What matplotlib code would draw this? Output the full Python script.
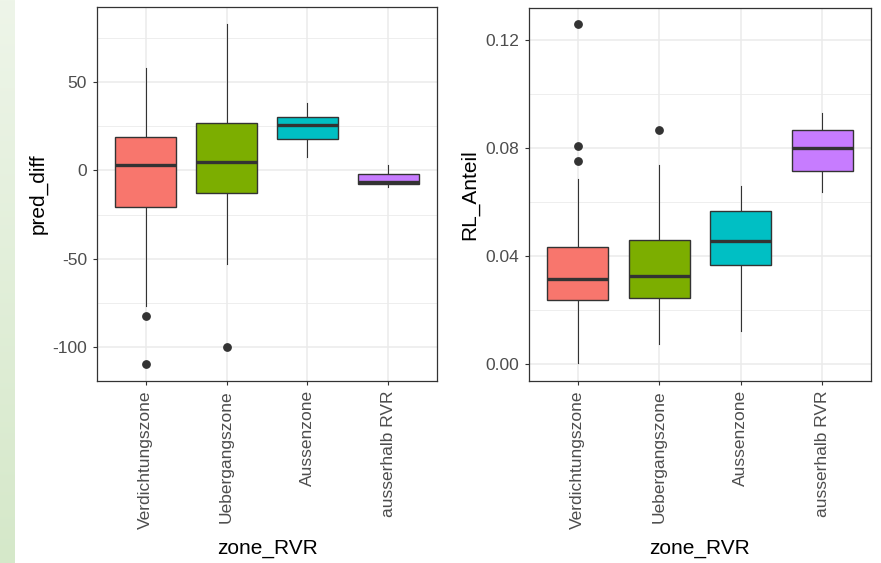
import numpy as np
import matplotlib
matplotlib.use("Agg")
import matplotlib.pyplot as plt
from matplotlib.ticker import MultipleLocator, FixedLocator

plt.rcParams['font.family'] = ['Liberation Sans', 'DejaVu Sans']

zones = ["Verdichtungszone", "Uebergangszone", "Aussenzone", "ausserhalb RVR"]
colors = ["#F8766D", "#7CAE00", "#00BFC4", "#C77CFF"]

pred_whislo = [-76.5, -53.1, 7.4, -9.2]
pred_q1 = [-20.5, -12.9, 17.9, -7.7]
pred_med = [2.9, 4.9, 25.8, -6.4]
pred_q3 = [19.0, 27.0, 30.4, -1.9]
pred_whishi = [57.7, 82.6, 37.9, 3.2]
pred_fliers = [[-82.3, -109.3], [-100.0], [], []]

rl_whislo = [0.0004, 0.0073, 0.0121, 0.0635]
rl_q1 = [0.0237, 0.0243, 0.0366, 0.0714]
rl_med = [0.0313, 0.0327, 0.0455, 0.0799]
rl_q3 = [0.0432, 0.0459, 0.0568, 0.0865]
rl_whishi = [0.0685, 0.0738, 0.0659, 0.0931]
rl_fliers = [[0.1258, 0.0808, 0.0750], [0.0865], [], []]

W, H = 881, 563
fig = plt.figure(figsize=(W / 100, H / 100), dpi=100)
fig.patch.set_facecolor("white")

# green slide strip on the left
bg = fig.add_axes([0, 0, 15 / W, 1], zorder=-10)
grad = np.linspace(0, 1, 256)[:, None]
top = np.array([238, 245, 233]) / 255
bot = np.array([213, 232, 201]) / 255
img = top[None, None, :] * (1 - grad[:, :, None]) + bot[None, None, :] * grad[:, :, None]
bg.imshow(img, aspect="auto", extent=[0, 1, 0, 1])
bg.axis("off")

GRID = "#EBEBEB"
DARK = "#333333"


def make_panel(rect, whislo, q1, med, q3, whishi, fliers, ylabel, ylim, major, minor, fmt):
    ax = fig.add_axes(rect)
    stats = []
    for i in range(len(zones)):
        stats.append(dict(med=med[i], q1=q1[i], q3=q3[i], whislo=whislo[i],
                          whishi=whishi[i], fliers=fliers[i], label=zones[i]))
    pos = np.arange(1, len(zones) + 1)
    b = ax.bxp(stats, positions=pos, widths=0.75, patch_artist=True, showcaps=False,
               boxprops=dict(edgecolor=DARK, linewidth=1.0),
               medianprops=dict(color=DARK, linewidth=2.4, solid_capstyle="butt"),
               whiskerprops=dict(color=DARK, linewidth=0.8),
               flierprops=dict(marker="o", markerfacecolor=DARK, markeredgecolor=DARK,
                               markersize=5.3))
    for patch, c in zip(b["boxes"], colors):
        patch.set_facecolor(c)
        patch.set_zorder(3)
    for m in b["medians"]:
        m.set_zorder(4)
    ax.set_xlim(0.4, 4.6)
    ax.set_ylim(*ylim)
    ax.yaxis.set_major_locator(FixedLocator(major))
    ax.yaxis.set_minor_locator(FixedLocator(minor))
    ax.set_yticklabels([fmt(v) for v in major])
    ax.set_xticks(pos)
    ax.set_xticklabels(zones, rotation=90)
    ax.grid(True, which="major", color=GRID, linewidth=1.1, zorder=0)
    ax.grid(True, which="minor", axis="y", color=GRID, linewidth=0.6, zorder=0)
    ax.set_axisbelow(True)
    for s in ax.spines.values():
        s.set_color(DARK)
        s.set_linewidth(0.9)
    ax.tick_params(axis="both", which="major", color=DARK, length=3.2, width=0.8,
                   labelcolor="#4D4D4D", labelsize=12.5)
    ax.tick_params(axis="y", which="major", pad=4.0)
    ax.tick_params(axis="x", which="major", pad=3.4)
    ax.tick_params(axis="y", which="minor", length=0)
    ax.set_ylabel(ylabel, fontsize=15, color="black")
    ax.yaxis.label.set_va("center")
    ax.set_xlabel("zone_RVR", fontsize=15, color="black")
    ax.xaxis.label.set_va("center")
    return ax


ax1 = make_panel([97 / W, 1 - 381 / H, 340 / W, 374 / H],
                 pred_whislo, pred_q1, pred_med, pred_q3, pred_whishi, pred_fliers,
                 "pred_diff", (-119.0, 92.4), [-100, -50, 0, 50], [-75, -25, 25, 75],
                 lambda v: f"{v:d}")
ax1.yaxis.set_label_coords((38.5 - 97) / 340, 0.5)
ax1.xaxis.set_label_coords(0.5, (381 - 549) / 374)

ax2 = make_panel([529 / W, 1 - 381 / H, 342 / W, 373 / H],
                 rl_whislo, rl_q1, rl_med, rl_q3, rl_whishi, rl_fliers,
                 "RL_Anteil", (-0.0064, 0.1319), [0.0, 0.04, 0.08, 0.12], [0.02, 0.06, 0.10],
                 lambda v: f"{v:.2f}")
ax2.yaxis.set_label_coords((470 - 529) / 342, 0.5)
ax2.xaxis.set_label_coords(0.5, (381 - 549) / 373)

fig.savefig("out.png", dpi=100)
